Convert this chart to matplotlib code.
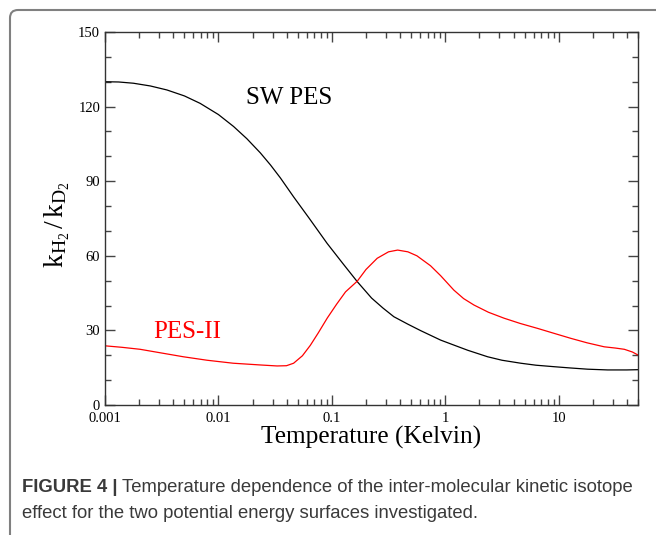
import numpy as np
import matplotlib
matplotlib.use("Agg")
import matplotlib.pyplot as plt
from matplotlib.patches import FancyBboxPatch
from matplotlib.transforms import IdentityTransform
from matplotlib.ticker import FixedLocator, LogLocator, MultipleLocator, FuncFormatter, NullFormatter

# ---- data ----
sw_T = [0.001, 0.00132, 0.00178, 0.00251, 0.00351, 0.00501, 0.0069, 0.01, 0.0136,
        0.0178, 0.0234, 0.0288, 0.0352, 0.046, 0.0631, 0.0908, 0.126, 0.1675, 0.224,
        0.282, 0.352, 0.468, 0.607, 0.759, 0.91, 1.19, 1.58, 2.36, 3.16, 4.63, 6.31,
        9.12, 12.6, 18.0, 27.0, 39.8, 50.0]
sw_k = [130.0, 129.9, 129.4, 128.3, 126.7, 124.3, 121.3, 116.8, 112.0,
        107.1, 101.4, 96.5, 91.3, 83.7, 75.1, 65.0, 56.7, 49.6, 43.0,
        39.0, 35.5, 32.5, 29.9, 27.8, 26.1, 24.1, 22.0, 19.4, 18.0, 16.8, 16.0,
        15.4, 14.9, 14.4, 14.1, 14.1, 14.2]

pes_T = [0.001, 0.00141, 0.00204, 0.00316, 0.0049, 0.00794, 0.0135, 0.0234, 0.0329,
         0.0398, 0.046, 0.055, 0.0646, 0.0759, 0.0912, 0.110, 0.132, 0.1675, 0.200,
         0.251, 0.316, 0.380, 0.468, 0.562, 0.741, 0.91, 1.19, 1.45, 1.79, 2.40,
         3.30, 4.57, 6.52, 9.12, 12.8, 17.8, 25.2, 31.6, 37.9, 44.7, 50.0]
pes_k = [23.8, 23.2, 22.4, 20.9, 19.4, 18.0, 16.8, 16.1, 15.7,
         15.8, 16.8, 19.8, 24.0, 29.0, 35.0, 40.5, 45.5, 49.8, 54.5,
         59.0, 61.6, 62.3, 61.6, 60.0, 56.0, 52.0, 46.2, 42.8, 40.2, 37.3,
         34.9, 32.8, 30.8, 28.8, 26.8, 25.0, 23.4, 22.9, 22.4, 21.3, 20.1]

x_ticks = [0.001, 0.01, 0.1, 1, 10]
x_ticklabels = ["0.001", "0.01", "0.1", "1", "10"]
y_ticks = [0, 30, 60, 90, 120, 150]

plt.rcParams['font.family'] = ['Liberation Serif', 'DejaVu Serif']
plt.rcParams['mathtext.fontset'] = 'custom'
plt.rcParams['mathtext.rm'] = 'Liberation Serif'
plt.rcParams['mathtext.it'] = 'Liberation Serif:italic'

W, H = 656, 535
fig = plt.figure(figsize=(W / 100, H / 100), dpi=100)
ax = fig.add_axes([105 / W, 1 - 405 / H, (638 - 105) / W, (405 - 32) / H])

ax.plot(sw_T, sw_k, color='black', lw=0.9, solid_joinstyle='round')
ax.plot(pes_T, pes_k, color='#ff0000', lw=0.9, solid_joinstyle='round')

ax.set_xscale('log')
ax.set_xlim(0.001, 50)
ax.set_ylim(0, 150)

ax.xaxis.set_major_locator(FixedLocator(x_ticks))
ax.xaxis.set_major_formatter(FuncFormatter(lambda v, p: x_ticklabels[x_ticks.index(v)] if v in x_ticks else ""))
ax.xaxis.set_minor_locator(LogLocator(base=10, subs=np.arange(2, 10), numticks=20))
ax.xaxis.set_minor_formatter(NullFormatter())
ax.yaxis.set_major_locator(FixedLocator(y_ticks))
ax.yaxis.set_minor_locator(MultipleLocator(10))

ax.tick_params(which='both', direction='in', top=True, right=True, colors='#444444',
               labelcolor='black', labelsize=10.5, width=1.0)
ax.tick_params(which='major', length=7)
ax.tick_params(which='minor', length=4)
ax.tick_params(axis='x', which='major', pad=5)
for s in ax.spines.values():
    s.set_color('#333333')
    s.set_linewidth(1.0)

ax.set_xlabel('Temperature (Kelvin)', fontsize=18.3, labelpad=1)
ax.set_ylabel(r'$\mathrm{k}_{\mathrm{H}_2}\,/\,\mathrm{k}_{\mathrm{D}_2}$', fontsize=20)
ax.yaxis.set_label_coords(-0.062, 0.485)

ax.text(0.042, 123.4, 'SW PES', fontsize=18, ha='center', va='center', color='black')
ax.text(0.0053, 29.4, 'PES-II', fontsize=18, ha='center', va='center', color='#ff0000')

# figure border (rounded)
border = FancyBboxPatch((10, -20), 700, H - 10 + 20, boxstyle='round,pad=0,rounding_size=8',
                        transform=IdentityTransform(), fill=False, edgecolor='#808080',
                        linewidth=1.5, figure=fig)
fig.patches.append(border)

# caption
cap_color = '#3a3a3a'
cap_font = ['Liberation Sans', 'DejaVu Sans']
cap_size = 13.3
fig.canvas.draw()
renderer = fig.canvas.get_renderer()
t1 = fig.text(22 / W, 1 - 488 / H, 'FIGURE 4 |', fontsize=cap_size, fontweight='bold',
              family=cap_font, color=cap_color, va='center', ha='left')
bb = t1.get_window_extent(renderer)
fig.text((bb.x1 + 4) / W, 1 - 488 / H,
         'Temperature dependence of the inter-molecular kinetic isotope',
         fontsize=cap_size, family=cap_font, color=cap_color, va='center', ha='left')
fig.text(22 / W, 1 - 513 / H, 'effect for the two potential energy surfaces investigated.',
         fontsize=cap_size, family=cap_font, color=cap_color, va='center', ha='left')

fig.savefig('out.png', dpi=100)
